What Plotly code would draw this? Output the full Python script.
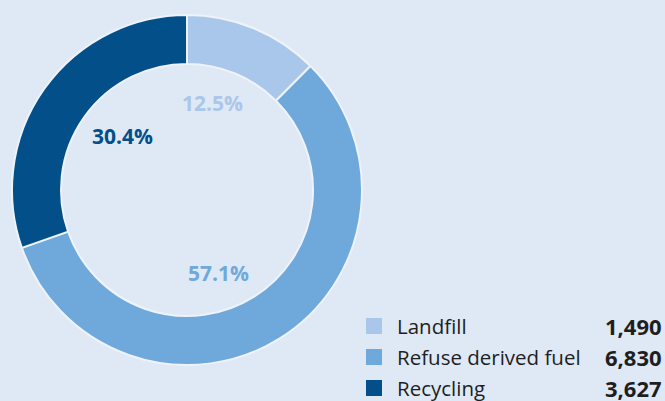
import plotly.graph_objects as go

# Waste treatment breakdown
categories = ["Landfill", "Refuse derived fuel", "Recycling"]
tonnes = [1490, 6830, 3627]
share_labels = ["12.5%", "57.1%", "30.4%"]
colors = ["#a9c7ea", "#6fa9dc", "#024f8a"]

W, H = 665, 401
BG = "#dfe8f5"


def px(x):
    return x / W


def py(y):
    return 1 - y / H


fig = go.Figure()
fig.add_trace(go.Pie(
    labels=categories,
    values=tonnes,
    hole=0.72,
    sort=False,
    direction="clockwise",
    rotation=0,
    marker=dict(colors=colors, line=dict(color="#eef3fa", width=2)),
    textinfo="none",
    hoverinfo="label+value",
    showlegend=False,
    domain=dict(x=[px(12), px(362)], y=[py(365), py(15)]),
))

# Percentage labels inside the ring
label_pos = [(212.5, 102.5), (218, 272.5), (122, 136)]
annotations = []
for text, col, (x, y) in zip(share_labels, colors, label_pos):
    annotations.append(dict(
        x=px(x), y=py(y), xref="paper", yref="paper",
        text=f"<b>{text}</b>", showarrow=False,
        xanchor="center", yanchor="middle",
        font=dict(family="Open Sans", size=21, color=col),
    ))

# Legend with values
shapes = []
row_y = [326, 357, 388]
for name, val, col, y in zip(categories, tonnes, colors, row_y):
    shapes.append(dict(
        type="rect", xref="paper", yref="paper",
        x0=px(366), x1=px(382), y0=py(y + 8), y1=py(y - 8),
        fillcolor=col, line=dict(width=0),
    ))
    annotations.append(dict(
        x=px(395), y=py(y), xref="paper", yref="paper",
        text=name, showarrow=False, xanchor="left", yanchor="middle",
        font=dict(family="Open Sans", size=20.5, color="#1e1e1e"),
    ))
    annotations.append(dict(
        x=px(664), y=py(y), xref="paper", yref="paper",
        text=f"<b>{val:,}</b>", showarrow=False, xanchor="right", yanchor="middle",
        font=dict(family="Open Sans", size=22, color="#1e1e1e"),
    ))

fig.update_layout(
    width=W, height=H,
    margin=dict(l=0, r=0, t=0, b=0),
    paper_bgcolor=BG, plot_bgcolor=BG,
    annotations=annotations,
    shapes=shapes,
)

fig.write_html("out.html")
